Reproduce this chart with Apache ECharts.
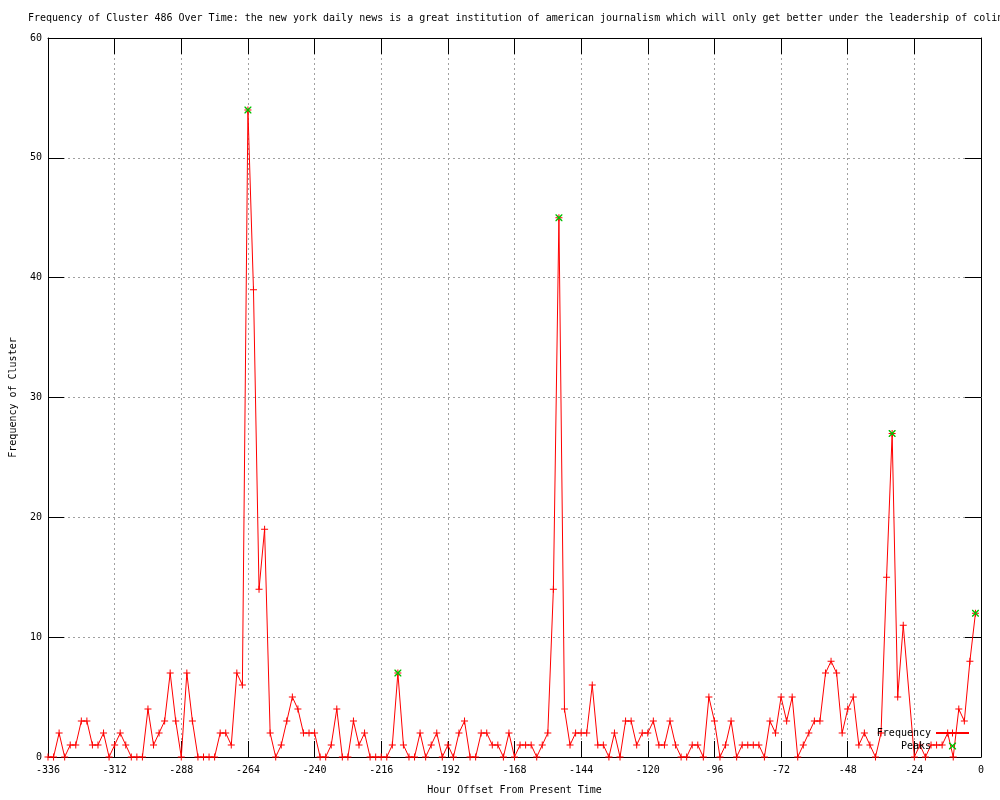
<!DOCTYPE html>
<html>
<head>
<meta charset="utf-8">
<script src="https://cdn.jsdelivr.net/npm/echarts/dist/echarts.min.js"></script>
<style>
html,body{margin:0;padding:0;background:#fff;}
#chart{width:1000px;height:800px;}
</style>
</head>
<body>
<div id="chart"></div>
<script>
// Hour offsets (x) — note: no sample at -26 in the source plot
const hours = [
  -336,-334,-332,-330,-328,-326,-324,-322,-320,-318,
  -316,-314,-312,-310,-308,-306,-304,-302,-300,-298,
  -296,-294,-292,-290,-288,-286,-284,-282,-280,-278,
  -276,-274,-272,-270,-268,-266,-264,-262,-260,-258,
  -256,-254,-252,-250,-248,-246,-244,-242,-240,-238,
  -236,-234,-232,-230,-228,-226,-224,-222,-220,-218,
  -216,-214,-212,-210,-208,-206,-204,-202,-200,-198,
  -196,-194,-192,-190,-188,-186,-184,-182,-180,-178,
  -176,-174,-172,-170,-168,-166,-164,-162,-160,-158,
  -156,-154,-152,-150,-148,-146,-144,-142,-140,-138,
  -136,-134,-132,-130,-128,-126,-124,-122,-120,-118,
  -116,-114,-112,-110,-108,-106,-104,-102,-100,-98,
  -96,-94,-92,-90,-88,-86,-84,-82,-80,-78,
  -76,-74,-72,-70,-68,-66,-64,-62,-60,-58,
  -56,-54,-52,-50,-48,-46,-44,-42,-40,-38,
  -36,-34,-32,-30,-28,
  -24,-22,-20,-18,-16,-14,-12,-10,-8,-6,-4,-2
];
const frequency = [
  0,0,2,0,1,1,3,3,1,1,
  2,0,1,2,1,0,0,0,4,1,
  2,3,7,3,0,7,3,0,0,0,
  0,2,2,1,7,6,54,39,14,19,
  2,0,1,3,5,4,2,2,2,0,
  0,1,4,0,0,3,1,2,0,0,
  0,0,1,7,1,0,0,2,0,1,
  2,0,1,0,2,3,0,0,2,2,
  1,1,0,2,0,1,1,1,0,1,
  2,14,45,4,1,2,2,2,6,1,
  1,0,2,0,3,3,1,2,2,3,
  1,1,3,1,0,0,1,1,0,5,
  3,0,1,3,0,1,1,1,1,0,
  3,2,5,3,5,0,1,2,3,3,
  7,8,7,2,4,5,1,2,1,0,
  2,15,27,5,11,
  0,1,0,1,1,1,2,0,4,3,8,12
];
const peakHours = [-264, -210, -152, -32, -2];
const peakValues = [54, 7, 45, 27, 12];

const titleText = 'Frequency of Cluster 486 Over Time: the new york daily news is a great institution of american journalism which will only get better under the leadership of colin';
const xName = 'Hour Offset From Present Time';
const yName = 'Frequency of Cluster';

const FONT = "'DejaVu Sans Mono', 'Liberation Mono', monospace";
const plusPath = 'path://M0,3L7,3L7,4L0,4Z M3,0L4,0L4,7L3,7Z';
const crossPath = 'path://M0,0L1,0L7,6L7,7L6,7L0,1Z M6,0L7,0L7,1L1,7L0,7L0,6Z';

const freqData = hours.map((h, i) => [h, frequency[i]]);
const peakData = peakHours.map((h, i) => [h, peakValues[i]]);

const chart = echarts.init(document.getElementById('chart'), null, {renderer: 'canvas'});

const tickStyle = {show: true, inside: true, length: 16, lineStyle: {color: '#000', width: 1}};
const axisLine = {show: true, onZero: false, lineStyle: {color: '#000', width: 1}};
const gridLine = {show: true, lineStyle: {color: '#a0a0a0', width: 1, type: [2, 3]}};

chart.setOption({
  animation: false,
  backgroundColor: '#fff',
  title: {
    text: titleText,
    left: 28, top: 13, padding: 0,
    textStyle: {fontFamily: FONT, fontSize: 10, fontWeight: 'normal', color: '#000'}
  },
  legend: [
    {
      data: ['Frequency'], orient: 'vertical', right: 30, top: 728, padding: 0,
      align: 'right', itemWidth: 33, itemHeight: 9, selectedMode: false,
      textStyle: {fontFamily: FONT, fontSize: 10, color: '#000'}
    },
    {
      data: ['Peaks'], orient: 'vertical', right: 30, top: 741, padding: 0,
      align: 'right', itemWidth: 33, itemHeight: 9, selectedMode: false,
      textStyle: {fontFamily: FONT, fontSize: 10, color: '#000'}
    }
  ],
  grid: {left: 48, right: 19, top: 38, bottom: 40, containLabel: false},
  xAxis: [
    {
      type: 'value', position: 'bottom', min: -336, max: 0, interval: 24,
      name: xName, nameLocation: 'middle', nameGap: 28,
      nameTextStyle: {fontFamily: FONT, fontSize: 10, color: '#000'},
      axisLine: axisLine, axisTick: tickStyle,
      axisLabel: {fontFamily: FONT, fontSize: 10, color: '#000', margin: 8},
      splitLine: gridLine
    },
    {
      type: 'value', position: 'top', min: -336, max: 0, interval: 24,
      axisLine: axisLine, axisTick: tickStyle,
      axisLabel: {show: false}, splitLine: {show: false}
    }
  ],
  yAxis: [
    {
      type: 'value', position: 'left', min: 0, max: 60, interval: 10,
      name: yName, nameLocation: 'middle', nameGap: 30, nameRotate: 90,
      nameTextStyle: {fontFamily: FONT, fontSize: 10, color: '#000'},
      axisLine: axisLine, axisTick: tickStyle,
      axisLabel: {fontFamily: FONT, fontSize: 10, color: '#000', margin: 6},
      splitLine: gridLine
    },
    {
      type: 'value', position: 'right', min: 0, max: 60, interval: 10,
      axisLine: axisLine, axisTick: tickStyle,
      axisLabel: {show: false}, splitLine: {show: false}
    }
  ],
  series: [
    {
      name: 'Frequency', type: 'line', data: freqData,
      xAxisIndex: 0, yAxisIndex: 0,
      symbol: plusPath, symbolSize: 7, showSymbol: true, clip: false,
      lineStyle: {color: '#ff0000', width: 1},
      itemStyle: {color: '#ff0000'},
      emphasis: {disabled: true}, z: 2
    },
    {
      name: 'Peaks', type: 'line', data: peakData,
      xAxisIndex: 0, yAxisIndex: 0,
      symbol: crossPath, symbolSize: 7, showSymbol: true, clip: false,
      lineStyle: {color: '#00c000', width: 1, opacity: 0},
      itemStyle: {color: '#00c000'},
      emphasis: {disabled: true}, z: 3
    }
  ]
});
</script>
</body>
</html>
